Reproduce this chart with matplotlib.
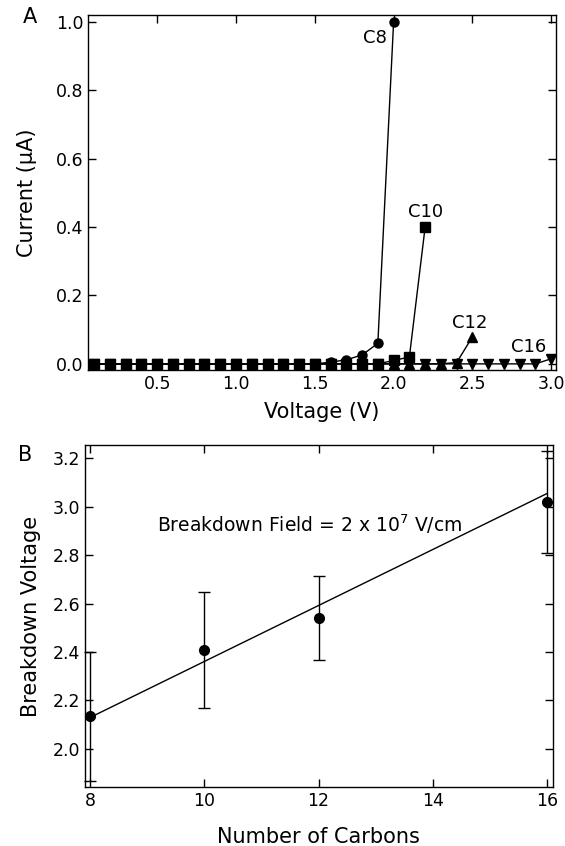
import matplotlib.pyplot as plt
import numpy as np

plt.rcParams['font.family'] = ['DejaVu Sans']

# I-V sweeps for each chain length (current in uA)
v_c8 = np.round(np.arange(0.1, 2.01, 0.1), 2)
i_c8 = [0.0] * 15 + [0.005, 0.012, 0.026, 0.06, 1.0]

v_c10 = np.round(np.arange(0.1, 2.21, 0.1), 2)
i_c10 = [0.0] * 19 + [0.01, 0.02, 0.40]

v_c12 = np.round(np.arange(0.1, 2.51, 0.1), 2)
i_c12 = [0.0] * 23 + [0.004, 0.079]

v_c16 = np.round(np.arange(0.1, 3.01, 0.1), 2)
i_c16 = [0.0] * 29 + [0.015]

# breakdown voltage vs chain length
carbons = [8, 10, 12, 16]
vbd = [2.134, 2.408, 2.54, 3.02]
vbd_err = [0.265, 0.24, 0.175, 0.21]
fit_x = [8, 16]
fit_y = [2.13, 3.054]

fig = plt.figure(figsize=(5.65, 8.46), dpi=100)
axA = fig.add_axes([0.156, 0.5626, 0.828, 0.4197])
axB = fig.add_axes([0.1504, 0.0697, 0.828, 0.4043])

ms = 6.5
axA.plot(v_c16, i_c16, 'k-', marker='v', ms=ms, lw=1)
axA.plot(v_c12, i_c12, 'k-', marker='^', ms=ms, lw=1)
axA.plot(v_c8, i_c8, 'k-', marker='o', ms=ms, lw=1)
axA.plot(v_c10, i_c10, 'k-', marker='s', ms=ms, lw=1)

lab_kw = dict(fontsize=13, ha='center', va='center')
axA.text(1.883, 0.953, 'C8', **lab_kw)
axA.text(2.2, 0.444, 'C10', **lab_kw)
axA.text(2.485, 0.12, 'C12', **lab_kw)
axA.text(2.854, 0.05, 'C16', **lab_kw)

axA.set_xlim(0.062, 3.03)
axA.set_ylim(-0.018, 1.02)
axA.set_xticks([0.5, 1.0, 1.5, 2.0, 2.5, 3.0])
axA.set_yticks([0.0, 0.2, 0.4, 0.6, 0.8, 1.0])
axA.xaxis.set_major_formatter(plt.FormatStrFormatter('%.1f'))
axA.yaxis.set_major_formatter(plt.FormatStrFormatter('%.1f'))
axA.set_xlabel('Voltage (V)', fontsize=15)
axA.set_ylabel('Current (\u03bcA)', fontsize=15)
axA.xaxis.set_label_coords(0.5, -0.09)
axA.yaxis.set_label_coords(-0.109, 0.5)

axB.errorbar(carbons, vbd, yerr=vbd_err, fmt='o', color='k', ms=ms + 0.5,
             elinewidth=1, capsize=4, capthick=1, clip_on=False)
axB.plot(fit_x, fit_y, 'k-', lw=1)
axB.text(11.85, 2.926, 'Breakdown Field = 2 x 10$^{7}$ V/cm', fontsize=13.5,
         ha='center', va='center')
axB.set_xlim(7.91, 16.1)
axB.set_ylim(1.843, 3.254)
axB.set_xticks([8, 10, 12, 14, 16])
axB.set_yticks([2.0, 2.2, 2.4, 2.6, 2.8, 3.0, 3.2])
axB.yaxis.set_major_formatter(plt.FormatStrFormatter('%.1f'))
axB.set_xlabel('Number of Carbons', fontsize=15)
axB.set_ylabel('Breakdown Voltage', fontsize=15)
axB.xaxis.set_label_coords(0.5, -0.117)
axB.yaxis.set_label_coords(-0.094, 0.5)

for ax in (axA, axB):
    ax.tick_params(direction='in', length=6, width=1, top=True, right=True,
                   labelsize=12.5, colors='k')
    for s in ax.spines.values():
        s.set_linewidth(1)

fig.text(0.053, 0.98, 'A', fontsize=15, ha='center', va='center')
fig.text(0.044, 0.462, 'B', fontsize=15, ha='center', va='center')

fig.savefig('out.png', dpi=100)
